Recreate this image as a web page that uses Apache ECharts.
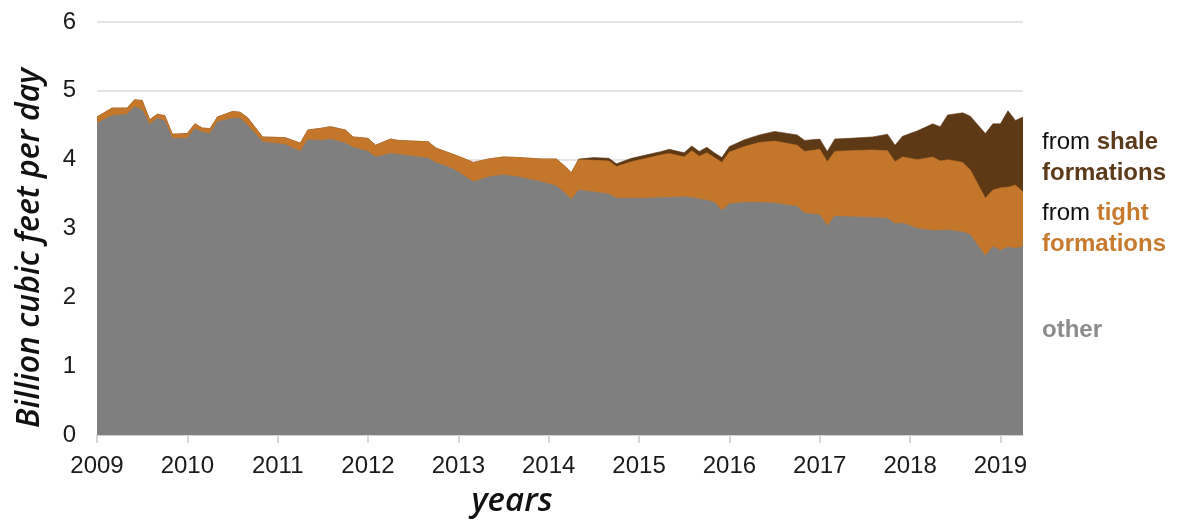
<!DOCTYPE html>
<html>
<head>
<meta charset="utf-8">
<script src="https://cdn.jsdelivr.net/npm/echarts@6/dist/echarts.min.js"></script>
<style>
html,body{margin:0;padding:0;background:#fff;}
#chart{width:1184px;height:520px;}
</style>
</head>
<body>
<div id="chart"></div>
<script>
// Monthly sample points (YYYY-MM)
const months = ['2009-01','2009-03','2009-05','2009-06','2009-07','2009-08','2009-09','2009-10','2009-11',
'2010-01','2010-02','2010-03','2010-04','2010-05','2010-07','2010-08','2010-09','2010-11',
'2011-02','2011-04','2011-05','2011-07','2011-08','2011-10','2011-11',
'2012-01','2012-02','2012-04','2012-05','2012-09','2012-10','2012-12',
'2013-01','2013-03','2013-05','2013-07','2013-09','2013-12',
'2014-02','2014-03','2014-04','2014-05','2014-07','2014-09','2014-10','2014-12',
'2015-02','2015-04','2015-05','2015-07','2015-08','2015-09','2015-10','2015-11','2015-12',
'2016-01','2016-03','2016-05','2016-07','2016-10','2016-11',
'2017-01','2017-02','2017-03','2017-05','2017-08','2017-10','2017-11','2017-12',
'2018-02','2018-04','2018-05','2018-06','2018-08','2018-09','2018-11','2018-12',
'2019-01','2019-02','2019-03','2019-04'];

const other = [4.53,4.64,4.66,4.77,4.72,4.51,4.60,4.56,4.31,
4.31,4.45,4.40,4.38,4.55,4.60,4.60,4.50,4.26,
4.22,4.12,4.29,4.28,4.30,4.24,4.18,
4.12,4.04,4.09,4.08,4.02,3.96,3.88,
3.82,3.68,3.75,3.78,3.75,3.68,
3.62,3.53,3.42,3.56,3.53,3.50,3.44,3.44,
3.44,3.45,3.45,3.46,3.45,3.43,3.41,3.38,3.26,
3.36,3.38,3.38,3.37,3.32,3.22,
3.20,3.04,3.18,3.17,3.16,3.15,3.07,3.08,
3.00,2.97,2.97,2.98,2.95,2.91,2.60,2.74,
2.68,2.73,2.71,2.74];

const tight = [0.09,0.11,0.09,0.10,0.14,0.07,0.06,0.08,0.06,
0.07,0.07,0.06,0.07,0.07,0.10,0.09,0.11,0.07,
0.10,0.12,0.14,0.18,0.18,0.19,0.15,
0.19,0.17,0.21,0.20,0.24,0.21,0.21,
0.23,0.28,0.26,0.26,0.28,0.33,
0.39,0.39,0.39,0.44,0.46,0.48,0.46,0.53,
0.58,0.62,0.64,0.58,0.68,0.62,0.69,0.65,0.70,
0.75,0.81,0.87,0.90,0.89,0.90,
0.95,0.93,0.94,0.96,0.98,0.98,0.90,0.96,
1.00,1.07,1.01,1.02,1.01,0.94,0.84,0.82,
0.91,0.87,0.92,0.79];

const shale = [0,0,0,0,0,0,0,0,0,
0,0,0,0,0,0,0,0,0,
0,0,0,0,0,0,0,
0,0,0,0,0,0,0,
0,0,0,0,0,0,
0,0,0,0.01,0.04,0.04,0.04,0.05,
0.05,0.05,0.06,0.06,0.07,0.07,0.08,0.07,0.07,
0.08,0.10,0.11,0.14,0.15,0.16,
0.15,0.15,0.18,0.18,0.19,0.24,0.24,0.30,
0.42,0.48,0.50,0.65,0.72,0.78,0.94,0.96,
0.93,1.11,0.94,1.09];

const yearTicks = [2009,2010,2011,2012,2013,2014,2015,2016,2017,2018,2019];

function toYear(s){ const p = s.split('-'); return +p[0] + (+p[1]-1)/12; }
// cumulative (stacked) tops, layered back-to-front
const layers = [[other],[other,tight],[other,tight,shale]];
function cum(arrs){ return months.map((m,i)=>[toYear(m), +arrs.reduce((s,a)=>s+a[i],0).toFixed(3)]); }

const chart = echarts.init(document.getElementById('chart'));
const areaSeries = (name, data, color, z) => ({
  name, type:'line', data, z,
  showSymbol:false, symbol:'none', smooth:false,
  lineStyle:{width:0.6,color:color}, areaStyle:{color:color, opacity:1, origin:'start'},
  itemStyle:{color:color}, emphasis:{disabled:true}, silent:true
});

chart.setOption({
  animation:false,
  grid:{left:97, right:161, top:22, bottom:85, containLabel:false},
  xAxis:{
    type:'value', min:2009, max:toYear(months[months.length-1]),
    interval:1,
    axisLine:{show:true, onZero:false, lineStyle:{color:'#cccccc', width:1.5}},
    axisTick:{show:true, length:8, lineStyle:{color:'#cccccc', width:1.5}, customValues:yearTicks},
    axisLabel:{customValues:yearTicks, margin:19, fontFamily:'Liberation Sans', fontSize:24, color:'#1a1a1a',
      formatter:v=>String(Math.round(v))},
    splitLine:{show:false}
  },
  yAxis:{
    type:'value', min:0, max:6, interval:1,
    axisLine:{show:false}, axisTick:{show:false},
    axisLabel:{margin:21, fontFamily:'Liberation Sans', fontSize:24, color:'#1a1a1a'},
    splitLine:{show:true, lineStyle:{color:'#e4e4e4', width:2}}
  },
  series:[
    areaSeries('from shale formations', cum(layers[2]), '#5e3915', 2),
    areaSeries('from tight formations', cum(layers[1]), '#c4772a', 3),
    areaSeries('other', cum(layers[0]), '#7f7f7f', 4)
  ],
  graphic:[
    {type:'text', left:1042, top:127, style:{
      text:'{a|from }{s|shale}\n{s|formations}', lineHeight:31,
      rich:{a:{fontFamily:'Liberation Sans', fontSize:24, fill:'#111', lineHeight:31},
            s:{fontFamily:'Liberation Sans', fontSize:24, fontWeight:'bold', fill:'#5b3a19', lineHeight:31}}}},
    {type:'text', left:1042, top:198, style:{
      text:'{a|from }{t|tight}\n{t|formations}', lineHeight:31,
      rich:{a:{fontFamily:'Liberation Sans', fontSize:24, fill:'#111', lineHeight:31},
            t:{fontFamily:'Liberation Sans', fontSize:24, fontWeight:'bold', fill:'#c77a2c', lineHeight:31}}}},
    {type:'text', left:1042, top:318, style:{
      text:'other', fontFamily:'Liberation Sans', fontSize:24, fontWeight:'bold', fill:'#8c8c8c'}},
    {type:'text', x:30, y:248, rotation:Math.PI/2, style:{
      text:'Billion cubic feet per day', fontFamily:'Open Sans', fontStyle:'italic', fontWeight:600,
      fontSize:32, fill:'#111', textAlign:'center', textVerticalAlign:'middle'}},
    {type:'text', x:512, y:502, style:{
      text:'years', fontFamily:'Open Sans', fontStyle:'italic', fontWeight:600,
      fontSize:33, fill:'#111', textAlign:'center', textVerticalAlign:'middle'}}
  ]
});
</script>
</body>
</html>
